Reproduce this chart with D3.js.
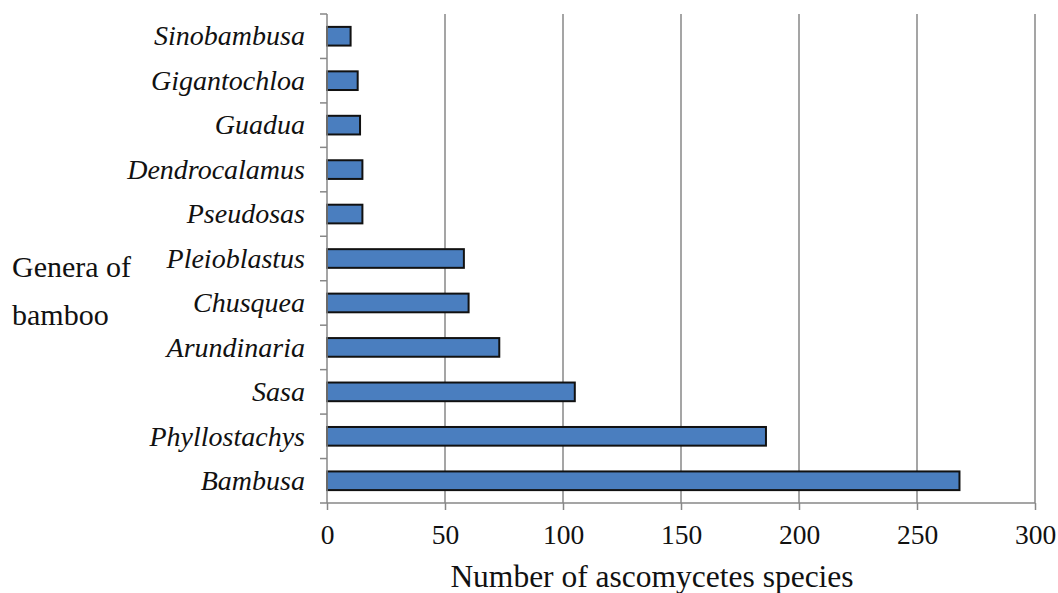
<!DOCTYPE html>
<html>
<head>
<meta charset="utf-8">
<script src="https://cdn.jsdelivr.net/npm/d3@7"></script>
<style>
  html, body { margin: 0; padding: 0; background: #fff; }
  svg { display: block; }
</style>
</head>
<body>
<svg id="chart" width="1058" height="593"></svg>
<script>
const genera = ["Sinobambusa", "Gigantochloa", "Guadua", "Dendrocalamus", "Pseudosas",
  "Pleioblastus", "Chusquea", "Arundinaria", "Sasa", "Phyllostachys", "Bambusa"];
const speciesCount = [10, 13, 14, 15, 15, 58, 60, 73, 105, 186, 268];
const xTicks = [0, 50, 100, 150, 200, 250, 300];
const xTitle = "Number of ascomycetes species";
const yTitle = ["Genera of", "bamboo"];

const FONT = "'Liberation Serif', 'Times New Roman', serif";
const svg = d3.select("#chart");
const m = { left: 327, right: 23, top: 14, bottom: 90 };
const W = 1058, H = 593;
const x = d3.scaleLinear().domain([0, 300]).range([m.left, W - m.right]);
const y = d3.scaleBand().domain(genera).range([m.top, H - m.bottom]).paddingInner(0.58).paddingOuter(0.29);
const y0 = m.top, y1 = H - m.bottom;

// gridlines
svg.append("g").selectAll("line").data(xTicks.slice(1)).join("line")
  .attr("x1", d => x(d)).attr("x2", d => x(d))
  .attr("y1", y0).attr("y2", y1)
  .attr("stroke", "#878787").attr("stroke-width", 1.5);

// bars
svg.append("g").selectAll("rect").data(genera).join("rect")
  .attr("x", x(0))
  .attr("y", d => y(d))
  .attr("width", (d, i) => x(speciesCount[i]) - x(0))
  .attr("height", y.bandwidth())
  .attr("fill", "#4a7ebf")
  .attr("stroke", "#111")
  .attr("stroke-width", 2);

// x axis
const xAxis = svg.append("g").attr("transform", `translate(0,${y1})`)
  .call(d3.axisBottom(x).tickValues(xTicks).tickSize(7).tickPadding(14).tickSizeOuter(0));
xAxis.attr("font-family", null);
xAxis.select(".domain").attr("stroke", "#878787").attr("stroke-width", 1.5)
  .attr("d", `M${x(0) - 7},0H${x(300)}`);
xAxis.selectAll(".tick line").attr("stroke", "#878787").attr("stroke-width", 1.5);
xAxis.selectAll(".tick text").attr("fill", "#111")
  .style("font-family", FONT).style("font-size", "27.5px");

// y axis: line + boundary ticks
const yAx = svg.append("g");
yAx.append("line").attr("x1", x(0)).attr("x2", x(0)).attr("y1", y0).attr("y2", y1)
  .attr("stroke", "#878787").attr("stroke-width", 1.5);
const step = y.step();
yAx.selectAll("line.bt").data(d3.range(genera.length)).join("line").attr("class", "bt")
  .attr("x1", x(0) - 7).attr("x2", x(0))
  .attr("y1", i => y0 + i * step).attr("y2", i => y0 + i * step)
  .attr("stroke", "#878787").attr("stroke-width", 1.5);

// category labels
svg.append("g").selectAll("text").data(genera).join("text")
  .attr("x", 305)
  .attr("y", d => y(d) + y.bandwidth() / 2)
  .attr("dy", "0.33em")
  .attr("text-anchor", "end")
  .attr("fill", "#111")
  .style("font-family", FONT).style("font-style", "italic").style("font-size", "28px")
  .text(d => d);

// titles
svg.append("text").attr("x", 652).attr("y", 587).attr("text-anchor", "middle")
  .attr("fill", "#111")
  .style("font-family", FONT).style("font-size", "31.5px").text(xTitle);
svg.append("g").selectAll("text").data(yTitle).join("text")
  .attr("x", 12).attr("y", (d, i) => 277 + i * 48)
  .attr("fill", "#111")
  .style("font-family", FONT).style("font-size", "30px").text(d => d);
</script>
</body>
</html>
